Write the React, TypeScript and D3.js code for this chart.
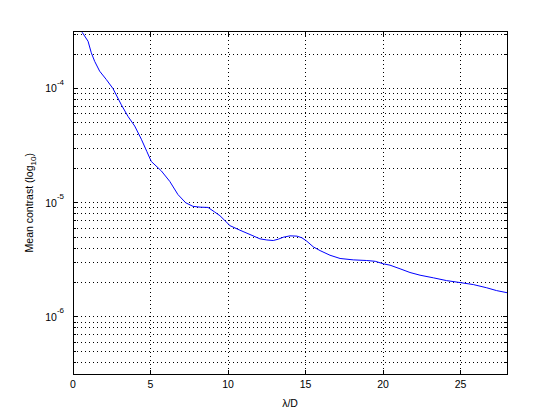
import React from "react";
import * as d3 from "d3";

const lambdaD = [0.5, 0.6, 0.97, 1.18, 1.4, 1.72, 2.15, 2.58, 3.12, 3.55, 3.98, 4.41, 4.77, 5.05, 5.7, 6.24, 6.77, 7.27, 7.74, 8.2, 8.71, 9.14, 9.48, 10.13, 10.77, 11.42, 12.06, 12.5, 12.92, 13.25, 13.57, 14.0, 14.45, 14.77, 15.09, 15.5, 15.94, 16.58, 17.23, 18.08, 18.95, 19.5, 20.02, 20.45, 21.1, 21.74, 22.39, 23.25, 24.1, 24.97, 25.83, 26.69, 27.33, 28.0];
const meanContrast = [3.4e-4, 3.1e-4, 2.6e-4, 2.06e-4, 1.73e-4, 1.42e-4, 1.2e-4, 1.0e-4, 7.2e-5, 5.7e-5, 4.7e-5, 3.6e-5, 2.8e-5, 2.3e-5, 1.9e-5, 1.54e-5, 1.18e-5, 1.0e-5, 9.3e-6, 9.15e-6, 9.1e-6, 8.3e-6, 7.7e-6, 6.3e-6, 5.75e-6, 5.27e-6, 4.83e-6, 4.72e-6, 4.67e-6, 4.8e-6, 4.99e-6, 5.13e-6, 5.1e-6, 4.93e-6, 4.6e-6, 4.11e-6, 3.81e-6, 3.47e-6, 3.25e-6, 3.16e-6, 3.12e-6, 3.07e-6, 2.92e-6, 2.84e-6, 2.64e-6, 2.45e-6, 2.32e-6, 2.2e-6, 2.08e-6, 2.0e-6, 1.92e-6, 1.8e-6, 1.7e-6, 1.63e-6];

const xTicks = [0, 5, 10, 15, 20, 25];
const yMajorExponents = [-6, -5, -4];
const xLabel = "λ/D";
const yLabel = "Mean contrast (log";

export default function App() {
  const W = 560, H = 420;
  const left = 73, right = 507, top = 31.5, bottom = 374;
  const x = d3.scaleLinear().domain([0, 28]).range([left, right]);
  const y = d3.scaleLog().domain([Math.pow(10, -6.5), Math.pow(10, -3.5)]).range([bottom, top]);

  const minor: number[] = [];
  for (let d = -7; d <= -3; d++) {
    for (let k = 2; k <= 9; k++) {
      const v = k * Math.pow(10, d);
      if (v >= y.domain()[0] && v <= y.domain()[1]) minor.push(v);
    }
  }
  const line = d3.line<number>().x((_, i) => x(lambdaD[i])).y((d) => y(d));
  const path = line(meanContrast) || "";
  const font = "'Liberation Sans', Arial, Helvetica, sans-serif";
  const tick = 4.3;

  return (
    <svg width={W} height={H} style={{ position: "absolute", left: 0, top: 0, background: "#fff" }} fontFamily={font}>
      <rect x={0} y={0} width={W} height={H} fill="#fff" />
      <defs>
        <clipPath id="plotclip">
          <rect x={left} y={top} width={right - left} height={bottom - top} />
        </clipPath>
      </defs>
      {/* grid lines */}
      {xTicks.filter((t) => t > 0).map((t) => (
        <line key={"gx" + t} x1={x(t)} x2={x(t)} y1={top} y2={bottom} stroke="#000" strokeWidth={1} strokeDasharray="1,3" shapeRendering="crispEdges" />
      ))}
      {yMajorExponents.map((e) => (
        <line key={"gy" + e} x1={left} x2={right} y1={y(Math.pow(10, e))} y2={y(Math.pow(10, e))} stroke="#000" strokeWidth={1} strokeDasharray="1,3" shapeRendering="crispEdges" />
      ))}
      {minor.map((v) => (
        <line key={"gm" + v} x1={left} x2={right} y1={y(v)} y2={y(v)} stroke="#000" strokeWidth={1} strokeDasharray="1,3" shapeRendering="crispEdges" />
      ))}
      {/* ticks */}
      {xTicks.map((t) => (
        <g key={"tx" + t}>
          <line x1={x(t)} x2={x(t)} y1={bottom} y2={bottom - tick} stroke="#000" shapeRendering="crispEdges" />
          <line x1={x(t)} x2={x(t)} y1={top} y2={top + tick} stroke="#000" shapeRendering="crispEdges" />
        </g>
      ))}
      {yMajorExponents.map((e) => (
        <g key={"ty" + e}>
          <line x1={left} x2={left + tick} y1={y(Math.pow(10, e))} y2={y(Math.pow(10, e))} stroke="#000" shapeRendering="crispEdges" />
          <line x1={right} x2={right - tick} y1={y(Math.pow(10, e))} y2={y(Math.pow(10, e))} stroke="#000" shapeRendering="crispEdges" />
        </g>
      ))}
      {minor.map((v) => (
        <g key={"tm" + v}>
          <line x1={left} x2={left + 3} y1={y(v)} y2={y(v)} stroke="#000" shapeRendering="crispEdges" />
          <line x1={right} x2={right - 3} y1={y(v)} y2={y(v)} stroke="#000" shapeRendering="crispEdges" />
        </g>
      ))}
      {/* data line */}
      <path d={path} fill="none" stroke="#0000ff" strokeWidth={1} clipPath="url(#plotclip)" />
      {/* axes box */}
      <rect x={left} y={top} width={right - left} height={bottom - top} fill="none" stroke="#000" strokeWidth={1} shapeRendering="crispEdges" />
      {/* x tick labels */}
      {xTicks.map((t) => (
        <text key={"lx" + t} x={x(t)} y={388} textAnchor="middle" fontSize={10.5} fill="#000">{t}</text>
      ))}
      {/* y tick labels */}
      {yMajorExponents.map((e) => (
        <text key={"ly" + e} x={64} y={y(Math.pow(10, e)) + 3.8} textAnchor="end" fontSize={10.5} fill="#000">
          10<tspan dy={-7.5} fontSize={8}>{String(e)}</tspan>
        </text>
      ))}
      {/* axis labels */}
      <text x={(left + right) / 2} y={406.5} textAnchor="middle" fontSize={10.5} fill="#000">{xLabel}</text>
      <text transform={`translate(33,${(top + bottom) / 2}) rotate(-90)`} textAnchor="middle" fontSize={10.5} fill="#000">
        {yLabel}<tspan dy={3} fontSize={8}>10</tspan><tspan dy={-3}>)</tspan>
      </text>
    </svg>
  );
}
